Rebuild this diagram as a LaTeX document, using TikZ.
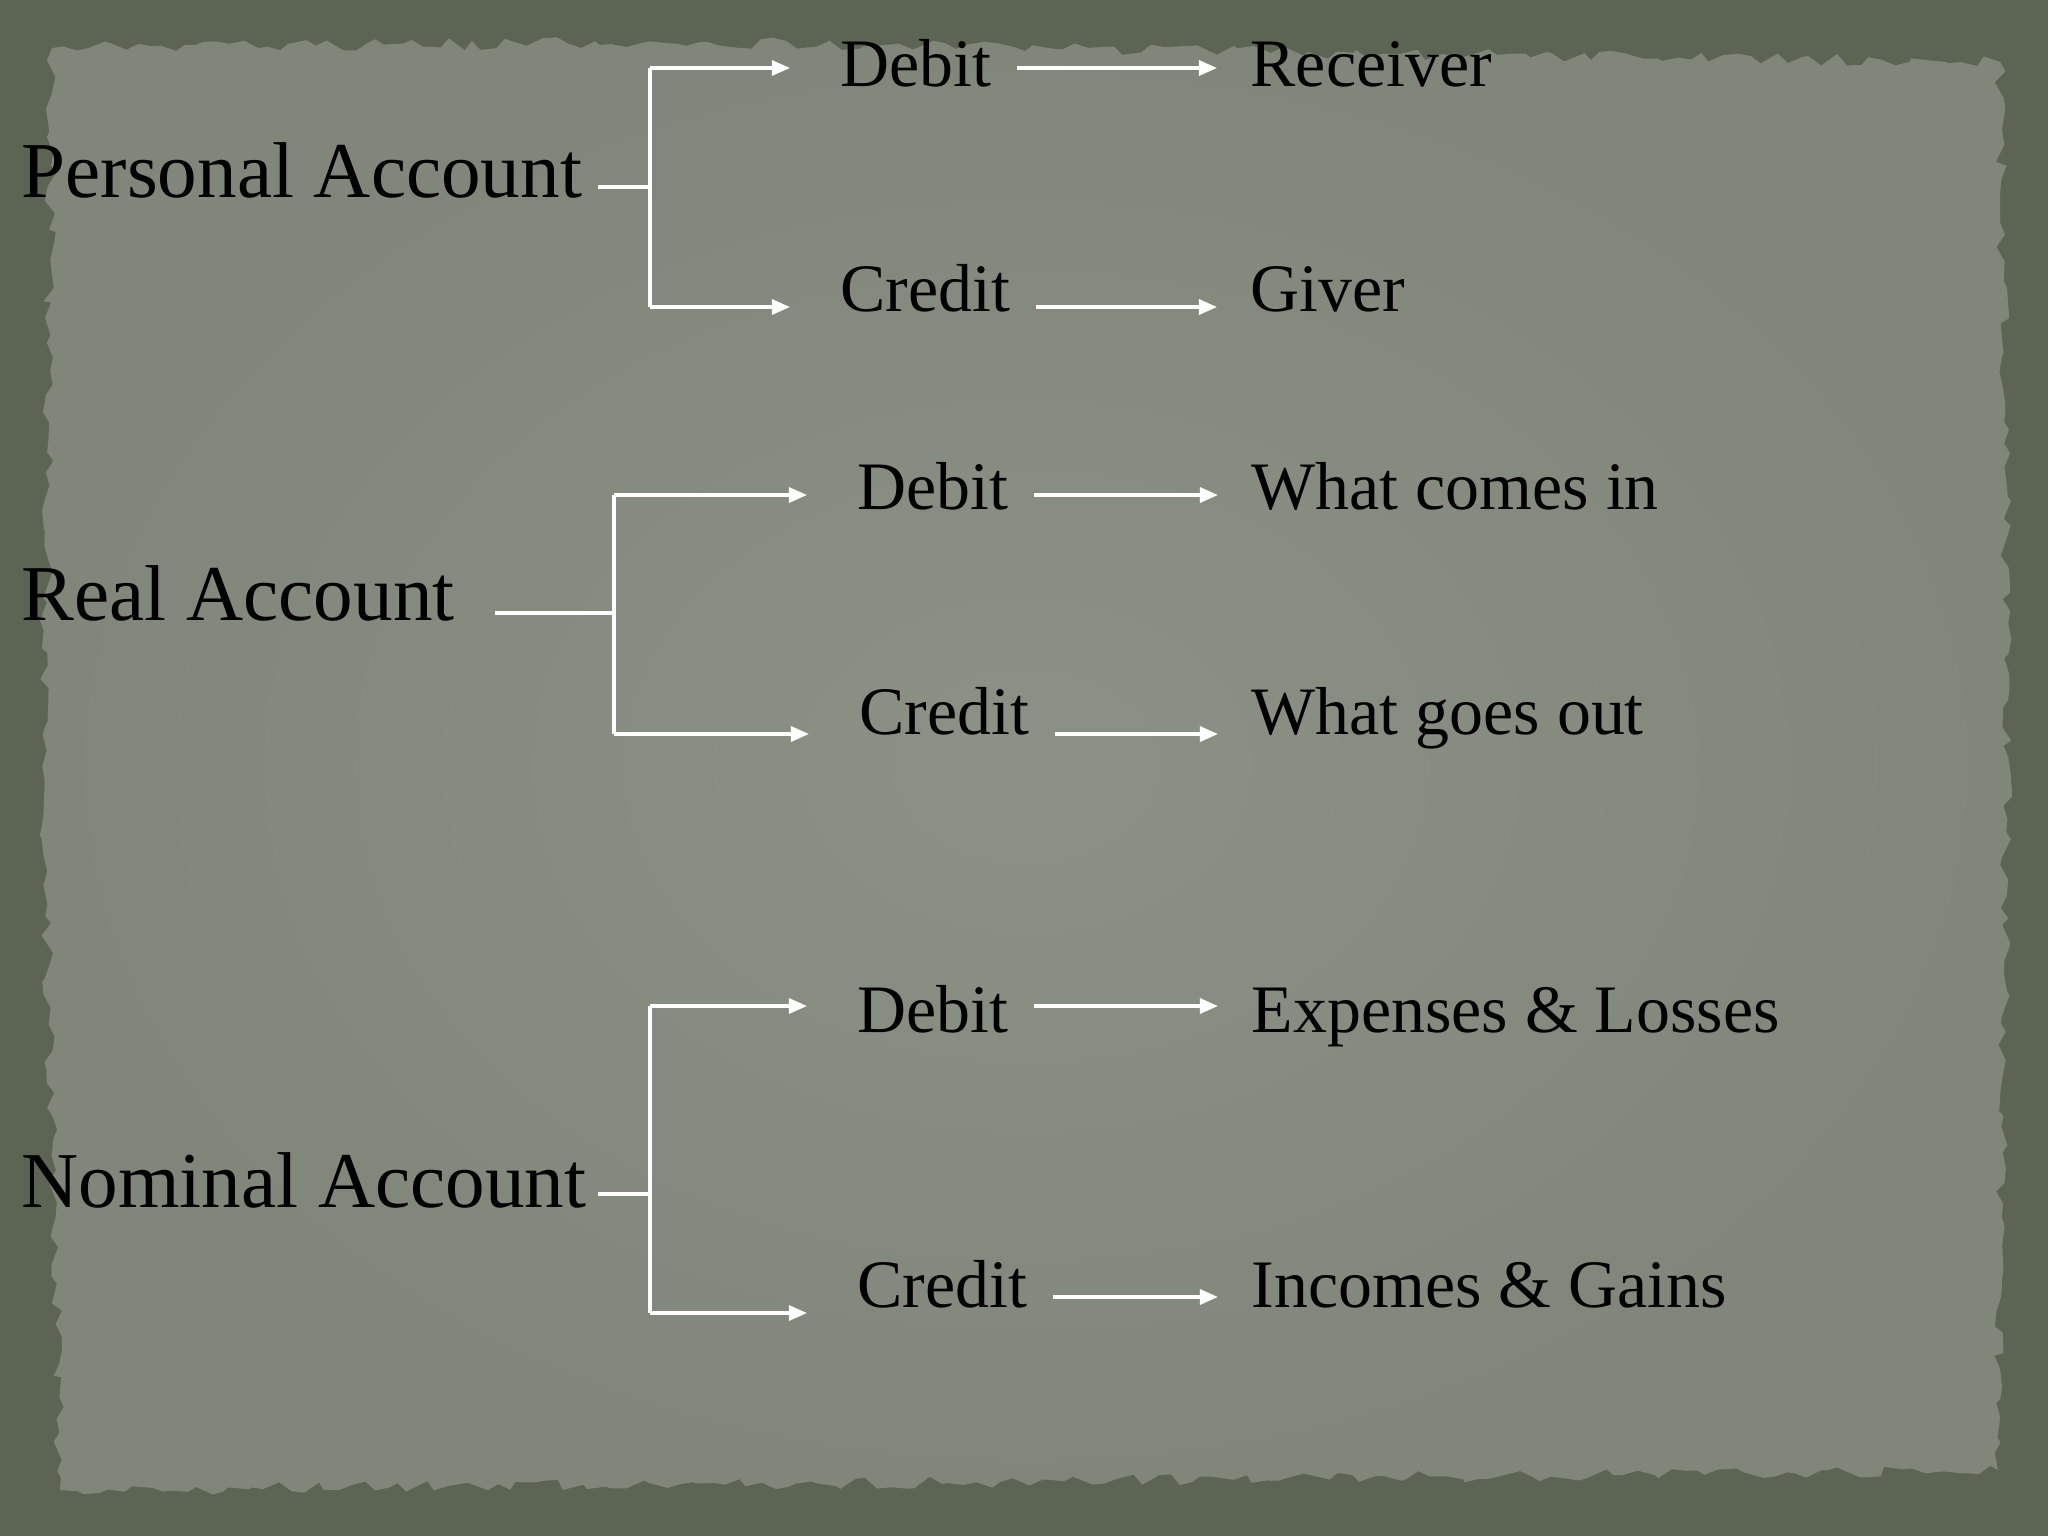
\documentclass[tikz,border=0pt]{standalone}
\usepackage{fontspec}
\setmainfont{Liberation Serif}
\usetikzlibrary{arrows.meta,decorations.pathmorphing}
\definecolor{frame}{HTML}{5C6553}
\definecolor{paper}{HTML}{8C9186}
\definecolor{paperedge}{HTML}{80867A}
\begin{document}
\begin{tikzpicture}[x=0.01cm,y=-0.01cm,
    acc/.style={anchor=base west,inner sep=0pt,font=\fontsize{22.5}{27}\selectfont},
    side/.style={anchor=base west,inner sep=0pt,font=\fontsize{19.3}{23}\selectfont},
    wire/.style={white,line width=0.9pt},
    branch/.style={wire,-{Triangle[length=0.18cm,width=0.15cm]},shorten >=0.5cm},
    link/.style={wire,-{Triangle[length=0.18cm,width=0.15cm]},shorten <=0.25cm,shorten >=0.33cm}]
  \pgfmathsetseed{7}
  \useasboundingbox (0,0) rectangle (2048,1536);
  \fill[frame] (0,0) rectangle (2048,1536);
  % torn paper
  \shade[inner color=paper,outer color=paperedge,decorate,
    decoration={random steps,segment length=0.12cm,amplitude=0.06cm}]
    (52,48) -- (700,42) -- (1400,54) -- (2000,62) -- (2008,700) -- (1998,1470)
    -- (1000,1482) -- (60,1490) -- (44,800) -- cycle;

  \node[acc] (pacc) at (21,197) {Personal Account};
  \node[side] (pdeb) at (840,86) {Debit};
  \node[side] (pcre) at (840,311) {Credit};
  \node[side] (rec) at (1250,86) {Receiver};
  \node[side] (giv) at (1250,311) {Giver};

  \node[acc] (racc) at (21,620) {Real Account};
  \node[side] (rdeb) at (857,509) {Debit};
  \node[side] (rcre) at (859,734) {Credit};
  \node[side] (cin) at (1251,509) {What comes in};
  \node[side] (gout) at (1251,734) {What goes out};

  \node[acc] (nacc) at (21,1207) {Nominal Account};
  \node[side] (ndeb) at (857,1032) {Debit};
  \node[side] (ncre) at (857,1307) {Credit};
  \node[side] (exp) at (1251,1032) {Expenses \& Losses};
  \node[side] (inc) at (1251,1307) {Incomes \& Gains};

  % brackets
  \coordinate (ps) at (598,187); \coordinate (pj) at (650,187);
  \coordinate (pt) at (650,68);  \coordinate (pb) at (650,307);
  \coordinate (rs) at (495,613); \coordinate (rj) at (614,613);
  \coordinate (rt) at (614,495); \coordinate (rb) at (614,734);
  \coordinate (ns) at (598,1194); \coordinate (nj) at (650,1194);
  \coordinate (nt) at (650,1006); \coordinate (nb) at (650,1313);

  \draw[wire] (ps) -- (pj) (pt) -- (pb)
              (rs) -- (rj) (rt) -- (rb)
              (ns) -- (nj) (nt) -- (nb);
  \draw (pt) edge[branch] (pdeb.west |- pt) (pb) edge[branch] (pcre.west |- pb)
        (rt) edge[branch] (rdeb.west |- rt) (rb) edge[branch] (rcre.west |- rb)
        (nt) edge[branch] (ndeb.west |- nt) (nb) edge[branch] (ncre.west |- nb);
  \draw (pdeb.east |- pt) edge[link] (rec.west |- pt)
        (pcre.east |- pb) edge[link] (giv.west |- pb)
        (rdeb.east |- rt) edge[link] (cin.west |- rt)
        (rcre.east |- rb) edge[link] (gout.west |- rb)
        (ndeb.east |- nt) edge[link] (exp.west |- nt)
        ([yshift=0.16cm]ncre.east |- nb) edge[link] ([yshift=0.16cm]inc.west |- nb);
\end{tikzpicture}
\end{document}
